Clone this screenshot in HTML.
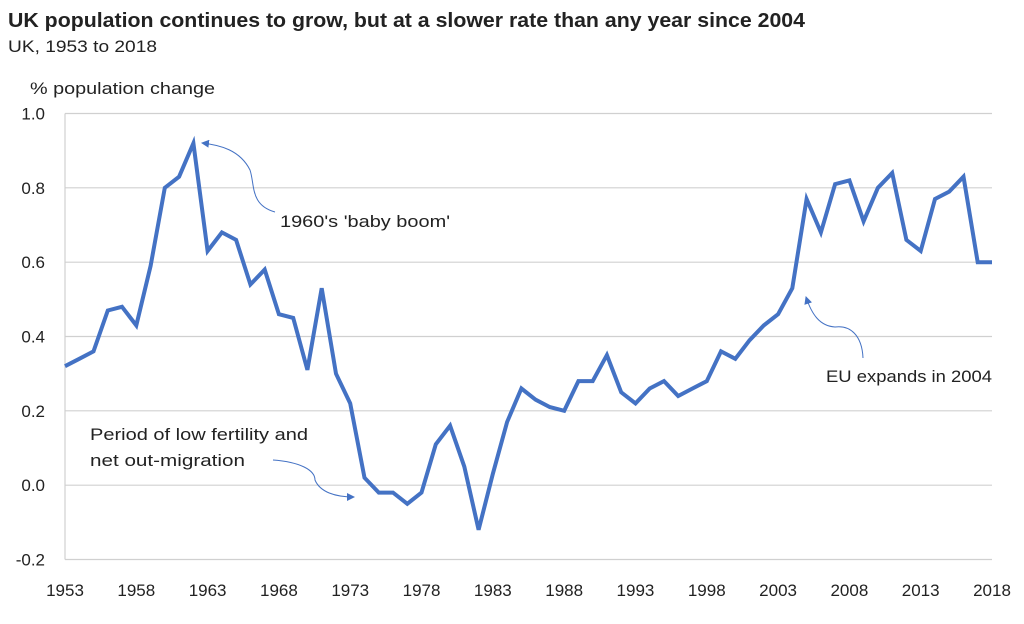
<!DOCTYPE html>
<html><head><meta charset="utf-8"><style>
body{margin:0;background:#fff;font-family:"Liberation Sans",sans-serif;}
svg text{font-family:"Liberation Sans",sans-serif;fill:#222;}
</style></head><body>
<svg width="1024" height="619" id="chart">
<text x="8" y="27" font-size="20" font-weight="bold" textLength="797" lengthAdjust="spacingAndGlyphs">UK population continues to grow, but at a slower rate than any year since 2004</text>
<text x="8" y="52" font-size="17" textLength="149" lengthAdjust="spacingAndGlyphs">UK, 1953  to 2018</text>
<text x="30" y="94" font-size="17" textLength="185" lengthAdjust="spacingAndGlyphs">% population change</text>
<g id="grid"></g><g id="yt"></g><g id="xt"></g>
<path id="line" fill="none" stroke="#4472c4" stroke-width="4" stroke-linejoin="miter"/>
<defs><marker id="ah" markerWidth="8" markerHeight="8" refX="7" refY="4" orient="auto"><path d="M0,0 L8,4 L0,8 Z" fill="#4472c4"/></marker></defs>
<path d="M275,212 C250,205 255,185 250,170 C240,150 220,145 202,143" fill="none" stroke="#4472c4" stroke-width="1" marker-end="url(#ah)"/>
<text x="280" y="227" font-size="17" textLength="170" lengthAdjust="spacingAndGlyphs">1960's  'baby boom'</text>
<text x="90" y="440" font-size="17" textLength="218" lengthAdjust="spacingAndGlyphs">Period of low fertility and</text>
<text x="90" y="466" font-size="17" textLength="155" lengthAdjust="spacingAndGlyphs">net out-migration</text>
<path d="M273,460 C300,462 315,470 315,480 C320,492 335,497 354,497" fill="none" stroke="#4472c4" stroke-width="1" marker-end="url(#ah)"/>
<path d="M863,358 C862,335 850,325 835,327 C820,326 812,315 806,297" fill="none" stroke="#4472c4" stroke-width="1" marker-end="url(#ah)"/>
<text x="826" y="382" font-size="17" textLength="166" lengthAdjust="spacingAndGlyphs">EU expands in 2004</text>
</svg>
<script>
const years=[];for(let y=1953;y<=2018;y++)years.push(y);
const values=[.32,.34,.36,.47,.48,.43,.59,.80,.83,.92,.63,.68,.66,.54,.58,.46,.45,.31,.53,.30,.22,.02,-.02,-.02,-.05,-.02,.11,.16,.05,-.12,.03,.17,.26,.23,.21,.20,.28,.28,.35,.25,.22,.26,.28,.24,.26,.28,.36,.34,.39,.43,.46,.53,.77,.68,.81,.82,.71,.80,.84,.66,.63,.77,.79,.83,.60,.60];
const yTicks=[1.0,0.8,0.6,0.4,0.2,0.0,-0.2];
const xTicks=[1953,1958,1963,1968,1973,1978,1983,1988,1993,1998,2003,2008,2013,2018];
const X0=65,X1=992,Y0=113.5,Y1=559.5;
const xs=y=>X0+(y-1953)/(2018-1953)*(X1-X0);
const ys=v=>Y0+(1.0-v)/(1.2)*(Y1-Y0);
const NS="http://www.w3.org/2000/svg";
const grid=document.getElementById('grid'),yt=document.getElementById('yt'),xt=document.getElementById('xt');
yTicks.forEach(t=>{
const l=document.createElementNS(NS,'line');
l.setAttribute('x1',X0);l.setAttribute('x2',X1);l.setAttribute('y1',ys(t));l.setAttribute('y2',ys(t));
l.setAttribute('stroke','#d0d0d0');l.setAttribute('stroke-width','1.2');


grid.appendChild(l);
const tx=document.createElementNS(NS,'text');
tx.setAttribute('x',45);tx.setAttribute('y',ys(t)+6);tx.setAttribute('text-anchor','end');tx.setAttribute('font-size','17');
tx.textContent=t.toFixed(1);


yt.appendChild(tx);
});
const ax=document.createElementNS(NS,'line');
ax.setAttribute('x1',X0);ax.setAttribute('x2',X0);ax.setAttribute('y1',Y0);ax.setAttribute('y2',Y1);ax.setAttribute('stroke','#d0d0d0');ax.setAttribute('stroke-width','1.2');


grid.appendChild(ax);
xTicks.forEach(t=>{
const tx=document.createElementNS(NS,'text');
tx.setAttribute('x',xs(t));tx.setAttribute('y',596);tx.setAttribute('text-anchor','middle');tx.setAttribute('font-size','17');
tx.textContent=t;


xt.appendChild(tx);
});
document.getElementById('line').setAttribute('d',values.map((v,i)=>(i?'L':'M')+xs(years[i]).toFixed(1)+','+ys(v).toFixed(1)).join(' '));
</script>
</body></html>
